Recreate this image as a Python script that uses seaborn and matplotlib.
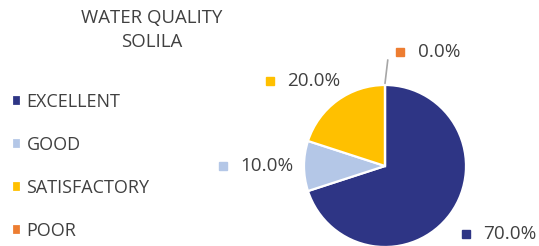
import numpy as np
import matplotlib
matplotlib.use('Agg')
import matplotlib.pyplot as plt
import seaborn as sns

# ---- data ----
categories = ['EXCELLENT', 'GOOD', 'SATISFACTORY', 'POOR']
shares = [70.0, 10.0, 20.0, 0.0]
title_lines = ['WATER QUALITY', 'SOLILA']

# ---- style ----
colors = ['#2E3585', '#B4C7E7', '#FFC000', '#ED7D31']
text_color = '#404040'
# label box placement (radius in pie radii, angular nudge in degrees)
label_radius = [1.64, 1.59, 1.46, 1.53]
label_nudge = [5, 0, 8, -23]

sns.set_theme(style='white')
plt.rcParams['font.family'] = ['Open Sans', 'DejaVu Sans']

W, H, DPI = 539, 246, 100
fig = plt.figure(figsize=(W / DPI, H / DPI), dpi=DPI)
ax = fig.add_axes([0, 0, 1, 1])

# pie center / radius in pixels
cx, cy, R = 385, 80, 81

wedges, _ = ax.pie(shares, colors=colors, startangle=90, counterclock=False,
                   radius=1, center=(0, 0),
                   wedgeprops=dict(edgecolor='white', linewidth=1.6))
ax.set_aspect('auto')
ax.set_xlim(-cx / R, (W - cx) / R)
ax.set_ylim(-cy / R, (H - cy) / R)
ax.axis('off')

# data labels (square marker + percentage), Excel style
sq = 0.41      # square center offset from box center (data units)
gap = 0.22     # square center to text left
for i, w in enumerate(wedges):
    mid = np.deg2rad((w.theta1 + w.theta2) / 2 + label_nudge[i])
    bx = label_radius[i] * np.cos(mid)
    by = label_radius[i] * np.sin(mid)
    ax.plot(bx - sq, by, marker='s', ms=5.5, color=colors[i], ls='none', clip_on=False)
    ax.text(bx - sq + gap, by, f'{shares[i]:.1f}%', ha='left', va='center',
            fontsize=13.6, color=text_color)
    if shares[i] == 0:
        a0 = np.deg2rad((w.theta1 + w.theta2) / 2)
        a1 = np.deg2rad((w.theta1 + w.theta2) / 2 - 1.5)
        ax.plot([1.02 * np.cos(a0), 1.31 * np.cos(a1)],
                [1.02 * np.sin(a0), 1.31 * np.sin(a1)],
                color='#A6A6A6', lw=1.2)

# legend on the left
fig.legend(wedges, categories, loc='upper left', bbox_to_anchor=(3 / W, 1 - 84 / H),
           frameon=False, handlelength=0.5, handleheight=0.5, handletextpad=0.3,
           labelspacing=1.38, fontsize=13, labelcolor=text_color, borderpad=0)

fig.text(152 / W, 1 - 30 / H, '\n'.join(title_lines), ha='center', va='center',
         multialignment='center', fontsize=13.4, color=text_color, linespacing=1.45)

fig.savefig('out.png', dpi=DPI)
